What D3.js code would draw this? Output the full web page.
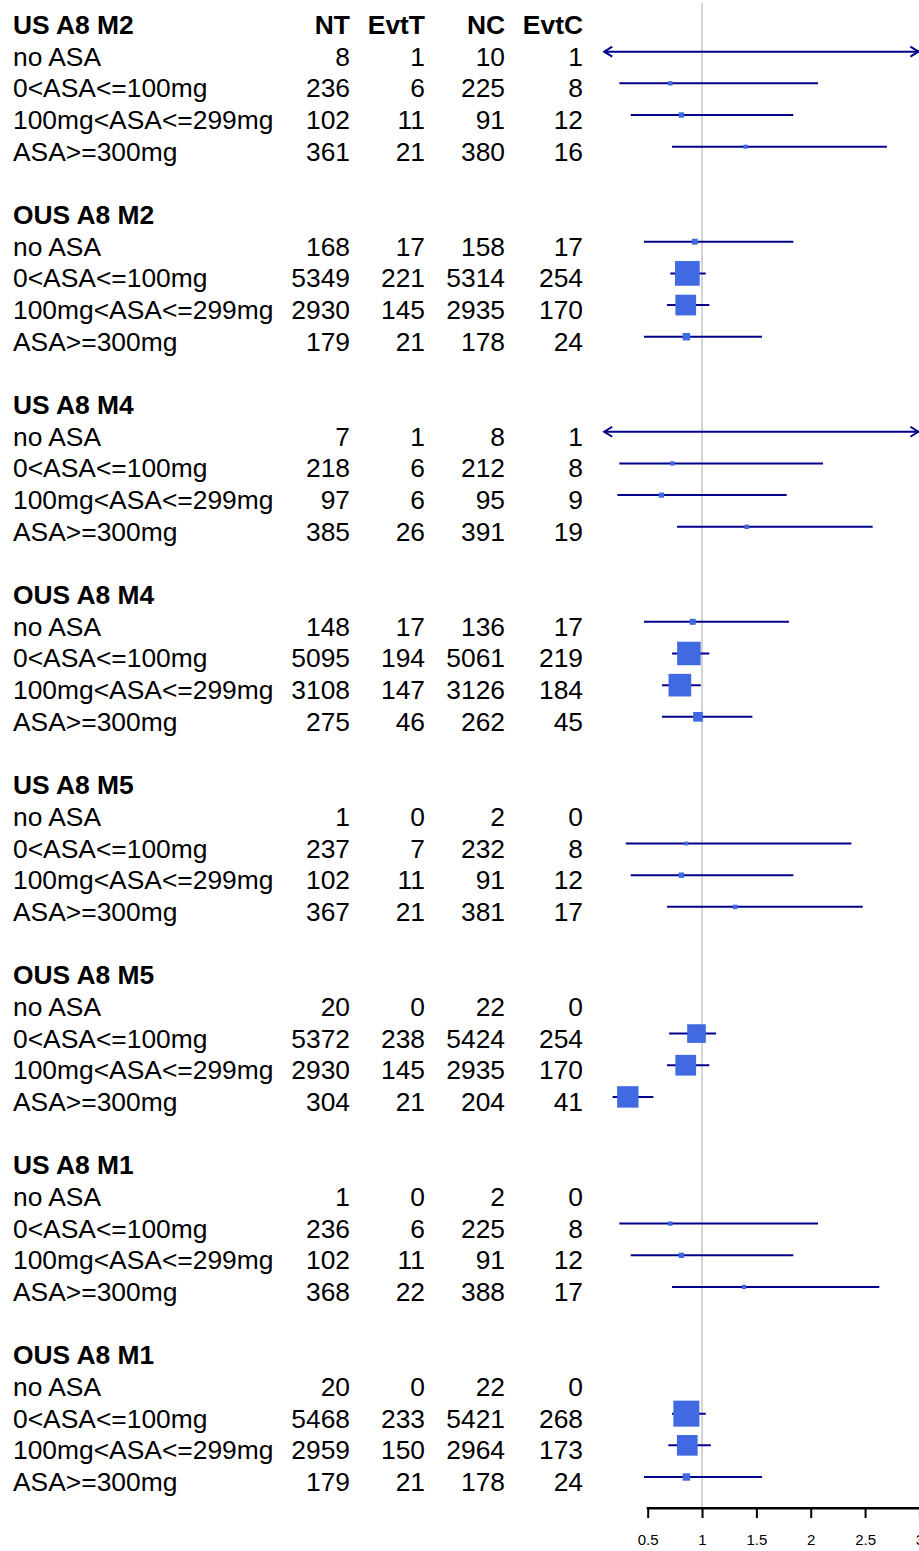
<!DOCTYPE html>
<html lang="en">
<head>
    <style>
        html, body {
            margin:0;
            height:100%;
            overflow:hidden;
            background:#fff;
        }

        svg {
            position:absolute;
            top:0;
            left:0;
        }
    </style>
    <meta charset="UTF-8">
    <script src="https://d3js.org/d3.v7.min.js"></script>
</head>
<body>
<svg width="919" height="1551"></svg>

<script>
    // data
    var groups = ["US A8 M2", "OUS A8 M2", "US A8 M4", "OUS A8 M4", "US A8 M5", "OUS A8 M5", "US A8 M1", "OUS A8 M1"];
    var subgroups = ["no ASA", "0<ASA<=100mg", "100mg<ASA<=299mg", "ASA>=300mg"];
    var columns = ["NT", "EvtT", "NC", "EvtC"];

    var nT   = [8, 236, 102, 361,  168, 5349, 2930, 179,  7, 218, 97, 385,  148, 5095, 3108, 275,
                1, 237, 102, 367,  20, 5372, 2930, 304,  1, 236, 102, 368,  20, 5468, 2959, 179];
    var evtT = [1, 6, 11, 21,  17, 221, 145, 21,  1, 6, 6, 26,  17, 194, 147, 46,
                0, 7, 11, 21,  0, 238, 145, 21,  0, 6, 11, 22,  0, 233, 150, 21];
    var nC   = [10, 225, 91, 380,  158, 5314, 2935, 178,  8, 212, 95, 391,  136, 5061, 3126, 262,
                2, 232, 91, 381,  22, 5424, 2935, 204,  2, 225, 91, 388,  22, 5421, 2964, 178];
    var evtC = [1, 8, 12, 16,  17, 254, 170, 24,  1, 8, 9, 19,  17, 219, 184, 45,
                0, 8, 12, 17,  0, 254, 170, 41,  0, 8, 12, 17,  0, 268, 173, 24];

    var est   = [1.34, 0.708, 0.81, 1.40,  0.933, 0.865, 0.85, 0.856,  1.236, 0.727, 0.626, 1.411,  0.914, 0.879, 0.796, 0.963,
                 null, 0.856, 0.81, 1.304,  null, 0.949, 0.85, 0.317,  null, 0.708, 0.81, 1.386,  null, 0.856, 0.864, 0.856];
    var lower = [0.06, 0.239, 0.344, 0.724,  0.466, 0.708, 0.678, 0.466,  0.06, 0.239, 0.221, 0.77,  0.466, 0.724, 0.632, 0.632,
                 null, 0.298, 0.344, 0.678,  null, 0.697, 0.678, 0.177,  null, 0.239, 0.344, 0.724,  null, 0.724, 0.69, 0.466];
    var upper = [28, 2.067, 1.84, 2.70,  1.84, 1.034, 1.067, 1.552,  30, 2.113, 1.779, 2.57,  1.80, 1.067, 0.988, 1.463,
                 null, 2.374, 1.84, 2.478,  null, 1.129, 1.067, 0.553,  null, 2.067, 1.84, 2.631,  null, 1.034, 1.08, 1.552];

    var ticks = [0.5, 1, 1.5, 2, 2.5, 3];
    var clip = [0.1, 3];

    var svg = d3.select("svg");
    var font = "Liberation Sans, Arial, sans-serif";

    var x = d3.scaleLinear().domain([0.5, 3]).range([647.7, 919.4]);
    var y = d3.scaleLinear().domain([0, 46]).range([20, 1477]);
    var colX = [350, 425, 505, 583];
    var axisY = 1508;
    var base = 14;   // text baseline below the row line

    // build rows
    var rows = [];
    groups.forEach(function(g, gi) {
        subgroups.forEach(function(s, si) {
            var k = gi * 4 + si;
            rows.push({label: s, line: gi * 6 + 1 + si,
                vals: [nT[k], evtT[k], nC[k], evtC[k]],
                est: est[k], lo: lower[k], hi: upper[k]});
        });
    });

    var ci = rows.filter(function(d) { return d.est != null; });
    var maxInfo = d3.max(ci, function(d) { return 1 / (d.hi - d.lo); });

    // reference line at 1
    svg.append("line")
        .attr("x1", x(1)).attr("x2", x(1))
        .attr("y1", 3).attr("y2", axisY)
        .attr("stroke", "#d3d3d3").attr("stroke-width", 2);

    // text table
    var txt = svg.append("g").attr("font-family", font).attr("font-size", 26.4).attr("fill", "#000");

    txt.selectAll(".grp")
        .data(groups)
        .enter().append("text")
        .attr("x", 13)
        .attr("y", function(d, i) { return y(i * 6) + base; })
        .attr("font-weight", "bold")
        .text(function(d) { return d; });

    txt.selectAll(".hdr")
        .data(columns)
        .enter().append("text")
        .attr("x", function(d, i) { return colX[i]; })
        .attr("y", y(0) + base)
        .attr("text-anchor", "end")
        .attr("font-weight", "bold")
        .text(function(d) { return d; });

    var rg = txt.selectAll(".row")
        .data(rows)
        .enter().append("g")
        .attr("transform", function(d) { return "translate(0," + (y(d.line) + base) + ")"; });

    rg.append("text")
        .attr("x", 13)
        .text(function(d) { return d.label; });

    rg.selectAll(".num")
        .data(function(d) { return d.vals; })
        .enter().append("text")
        .attr("x", function(d, i) { return colX[i]; })
        .attr("text-anchor", "end")
        .text(function(d) { return d; });

    // confidence intervals
    var cg = svg.append("g");
    cg.selectAll(".ci")
        .data(ci)
        .enter().append("line")
        .attr("x1", function(d) { return x(Math.max(d.lo, clip[0])); })
        .attr("x2", function(d) { return x(Math.min(d.hi, clip[1])); })
        .attr("y1", function(d) { return y(d.line); })
        .attr("y2", function(d) { return y(d.line); })
        .attr("stroke", "#00008b").attr("stroke-width", 2);

    // arrows for clipped intervals
    ci.forEach(function(d) {
        var yy = y(d.line);
        if (d.lo < clip[0]) {
            var xl = x(clip[0]);
            cg.append("path")
                .attr("d", "M" + (xl + 8) + "," + (yy - 5) + "L" + xl + "," + yy + "L" + (xl + 8) + "," + (yy + 5))
                .attr("fill", "none").attr("stroke", "#00008b").attr("stroke-width", 2);
        }
        if (d.hi > clip[1]) {
            var xr = x(clip[1]) - 1;
            cg.append("path")
                .attr("d", "M" + (xr - 8) + "," + (yy - 5) + "L" + xr + "," + yy + "L" + (xr - 8) + "," + (yy + 5))
                .attr("fill", "none").attr("stroke", "#00008b").attr("stroke-width", 2);
        }
    });

    // boxes sized by precision
    cg.selectAll(".box")
        .data(ci)
        .enter().append("rect")
        .each(function(d) {
            var s = 26 * (1 / (d.hi - d.lo)) / maxInfo;
            d3.select(this)
                .attr("x", x(d.est) - s / 2)
                .attr("y", y(d.line) - s / 2)
                .attr("width", s)
                .attr("height", s);
        })
        .attr("fill", "#4169e1");

    // axis
    var ax = svg.append("g")
        .attr("transform", "translate(0," + axisY + ")")
        .call(d3.axisBottom(x).tickValues(ticks).tickSize(10).tickSizeOuter(0).tickFormat(d3.format("")));
    ax.select(".domain").remove();
    ax.append("rect")
        .attr("x", x(0.5) - 1).attr("y", -1)
        .attr("width", 919 - x(0.5) + 1).attr("height", 2.5)
        .attr("fill", "#000");
    ax.selectAll(".tick line").attr("stroke", "#000").attr("stroke-width", 2);
    ax.selectAll(".tick text")
        .attr("fill", "#000")
        .attr("font-family", font)
        .attr("font-size", 15)
        .attr("dy", 0)
        .attr("y", 37);
</script>
</body>
</html>
